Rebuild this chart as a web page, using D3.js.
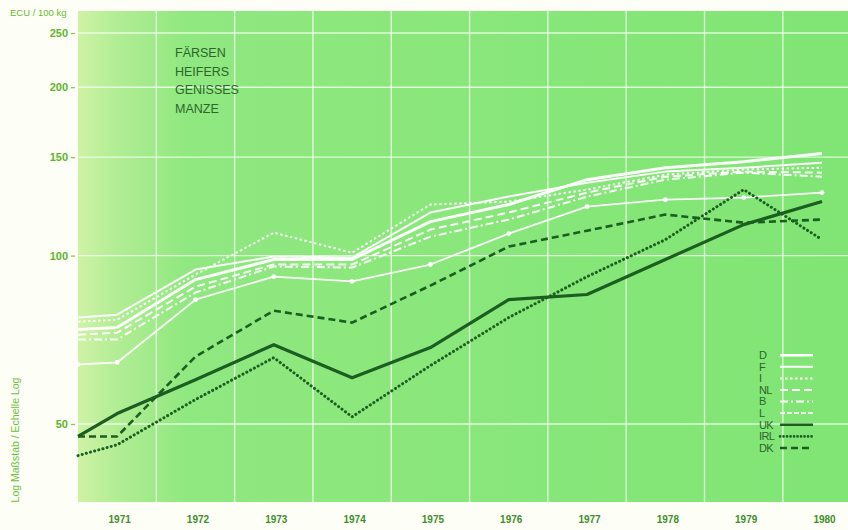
<!DOCTYPE html>
<html><head><meta charset="utf-8">
<script src="https://cdn.jsdelivr.net/npm/d3@7"></script>
<style>
html,body{margin:0;padding:0;background:#fdfef6;}
svg{display:block;}
</style></head>
<body>
<script>
// ---- data ----
const years = [1970.5, 1971, 1972, 1973, 1974, 1975, 1976, 1977, 1978, 1979, 1980];
const yearLabels = [1971, 1972, 1973, 1974, 1975, 1976, 1977, 1978, 1979, 1980];
const yTicks = [50, 100, 150, 200, 250];
const gridYears = [1971.5, 1972.5, 1973.5, 1974.5, 1975.5, 1976.5, 1977.5, 1978.5, 1979.5];
const seriesNames = ["D", "F", "I", "NL", "B", "L", "UK", "IRL", "DK"];
const valD   = [73.8, 74.4, 90.6, 98.4, 98.4, 115.0, 123.4, 136.7, 143.6, 147.2, 152.2];
const valF   = [77.5, 78.4, 94.4, 99.6, 99.2, 119.4, 127.5, 135.0, 141.3, 143.6, 146.6];
const valI   = [76.2, 76.8, 92.5, 109.9, 101.2, 123.4, 124.9, 131.2, 139.6, 142.5, 143.6];
const valNL  = [72.2, 72.8, 88.0, 96.4, 96.4, 111.3, 119.4, 129.6, 138.4, 141.3, 140.7];
const valB   = [70.8, 70.8, 85.9, 95.6, 95.2, 108.1, 116.0, 127.5, 136.7, 140.7, 138.4];
const valL   = [63.9, 64.4, 83.4, 91.7, 89.9, 96.4, 109.5, 122.3, 125.9, 127.0, 129.6];
const valUK  = [47.5, 52.2, 60.0, 69.3, 60.5, 68.5, 83.4, 85.2, 98.4, 113.6, 124.9];
const valIRL = [43.9, 45.9, 55.3, 65.7, 51.5, 63.6, 77.5, 91.7, 106.8, 131.2, 106.8];
const valDK  = [47.5, 47.5, 66.0, 79.7, 75.9, 88.4, 103.8, 110.8, 118.4, 114.5, 116.0];
const titleLines = ["FÄRSEN", "HEIFERS", "GENISSES", "MANZE"];

const seriesVals = [valD, valF, valI, valNL, valB, valL, valUK, valIRL, valDK];

const W = 848, H = 530;
const plot = {x0: 78, x1: 848, y0: 11, y1: 502};
const x = d3.scaleLinear().domain([1970.5, 1980]).range([78, 822]);
const y = d3.scaleLog().domain([50, 250]).range([424, 33]);

const WHITE = "#ffffff", DARK = "#1b5e20";
const styles = {
  D:  {c: WHITE, w: 3.0, dash: null},
  F:  {c: WHITE, w: 2.0, dash: null},
  I:  {c: WHITE, w: 2.0, dash: "2.5,2.5"},
  NL: {c: WHITE, w: 2.0, dash: "8,4"},
  B:  {c: WHITE, w: 2.0, dash: "8,3,2,3"},
  L:  {c: WHITE, w: 1.8, dash: null, dots: true},
  UK: {c: DARK, w: 3.2, dash: null},
  IRL:{c: DARK, w: 3.0, dash: "0.1,4.2", cap: "round"},
  DK: {c: DARK, w: 2.6, dash: "7,4"}
};
const FONT = "Liberation Sans, Arial, sans-serif";

const svg = d3.select("body").append("svg").attr("width", W).attr("height", H);
const defs = svg.append("defs");
const grad = defs.append("linearGradient").attr("id", "bg").attr("x1", "0").attr("x2", "1").attr("y1", "0").attr("y2", "0");
grad.append("stop").attr("offset", "0").attr("stop-color", "#cff2a6");
grad.append("stop").attr("offset", "0.05").attr("stop-color", "#b2ed94");
grad.append("stop").attr("offset", "0.14").attr("stop-color", "#90e880");
grad.append("stop").attr("offset", "1").attr("stop-color", "#80e574");

svg.append("rect").attr("x", plot.x0).attr("y", plot.y0)
  .attr("width", plot.x1 - plot.x0).attr("height", plot.y1 - plot.y0)
  .attr("fill", "url(#bg)");

// grid
const grid = svg.append("g").attr("stroke", "#f4fff0").attr("stroke-opacity", 0.8).attr("stroke-width", 1.4);
grid.selectAll("line.h").data(yTicks).join("line")
  .attr("x1", plot.x0).attr("x2", plot.x1)
  .attr("y1", d => y(d)).attr("y2", d => y(d));
grid.selectAll("line.v").data(gridYears).join("line")
  .attr("x1", d => x(d)).attr("x2", d => x(d))
  .attr("y1", plot.y0).attr("y2", plot.y1);

// y axis
const yAxis = d3.axisLeft(y).tickValues(yTicks).tickFormat(d3.format("d")).tickSize(4).tickPadding(3);
const ga = svg.append("g").attr("transform", "translate(75,0)").call(yAxis);
ga.select(".domain").remove();
ga.selectAll(".tick line").attr("stroke", "#7ccc3c").attr("stroke-width", 1.2);
ga.selectAll(".tick text").attr("fill", "#5fb52a").attr("font-family", FONT)
  .attr("font-size", 11).attr("font-weight", "bold");

svg.append("text").attr("x", 10).attr("y", 16).text("ECU / 100 kg")
  .attr("fill", "#66bb30").attr("font-family", FONT).attr("font-size", 9.5);

svg.append("text").attr("transform", "translate(19,440) rotate(-90)")
  .attr("text-anchor", "middle").text("Log Maßstab / Echelle Log")
  .attr("fill", "#6cc23a").attr("font-family", FONT).attr("font-size", 10.5);

// x labels
const xAxis = d3.axisBottom(x).tickValues(yearLabels).tickFormat(d3.format("d")).tickSize(0).tickPadding(0);
const gx = svg.append("g").attr("transform", "translate(2,516)").call(xAxis);
gx.select(".domain").remove();
gx.selectAll(".tick text").attr("fill", "#3f8f2a").attr("font-family", FONT)
  .attr("font-size", 10).attr("font-weight", "bold");

// title
svg.append("g").selectAll("text").data(titleLines).join("text")
  .attr("x", 175).attr("y", (d, i) => 57 + i * 18.5).text(d => d)
  .attr("fill", "#2c662a").attr("font-family", FONT).attr("font-size", 12.5);

// lines
const line = d3.line().x((d, i) => x(years[i])).y(d => y(d));
const gl = svg.append("g").attr("fill", "none");
seriesNames.forEach((n, k) => {
  const s = styles[n];
  gl.append("path").attr("d", line(seriesVals[k]))
    .attr("stroke", s.c).attr("stroke-width", s.w)
    .attr("stroke-dasharray", s.dash)
    .attr("stroke-linecap", s.cap || "butt")
    .attr("stroke-linejoin", "round")
    .attr("stroke-opacity", s.c === WHITE ? 0.95 : 1);
  if (s.dots) {
    gl.selectAll("circle.d" + n).data(seriesVals[k]).join("circle")
      .attr("cx", (d, i) => x(years[i])).attr("cy", d => y(d)).attr("r", 2.4).attr("fill", WHITE);
  }
});

// legend
const lg = svg.append("g").attr("transform", "translate(759,359)");
seriesNames.forEach((n, k) => {
  const s = styles[n];
  const yy = k * 11.6;
  lg.append("text").attr("x", 0).attr("y", yy).text(n)
    .attr("fill", "#2c662a").attr("font-family", FONT).attr("font-size", 11)
    .attr("letter-spacing", -0.6);
  lg.append("line").attr("x1", 21).attr("x2", 54).attr("y1", yy - 3.8).attr("y2", yy - 3.8)
    .attr("stroke", s.c).attr("stroke-width", Math.min(s.w, 2.6))
    .attr("stroke-dasharray", s.dash ? (n === "IRL" ? "0.1,3.4" : s.dash) : (s.dots ? "5,2" : null))
    .attr("stroke-linecap", s.cap || "butt");
});
</script>
</body></html>
